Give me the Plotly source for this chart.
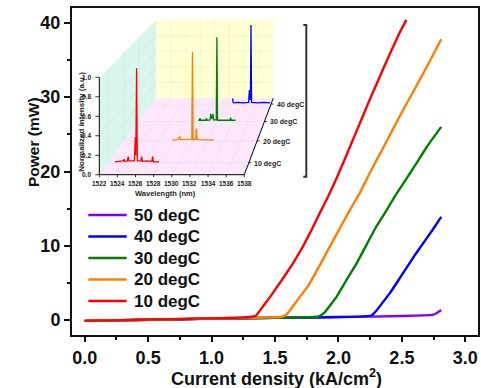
import numpy as np
import plotly.graph_objects as go

# ---------------- main L-I data ----------------
temps = ["50 degC", "40 degC", "30 degC", "20 degC", "10 degC"]
colors = ["#8000FF", "#0000FF", "#008000", "#FF8000", "#FF0000"]

j_50 = [0.0, 0.5, 1.0, 1.5, 2.0, 2.5, 2.74, 2.78, 2.81]
p_50 = [-0.1, 0.05, 0.2, 0.3, 0.4, 0.55, 0.7, 1.0, 1.35]

j_40 = [0.0, 0.5, 1.0, 1.5, 2.0, 2.2, 2.26, 2.30, 2.35, 2.404, 2.47, 2.535, 2.60, 2.666, 2.74, 2.81]
p_40 = [-0.1, 0.05, 0.2, 0.3, 0.42, 0.5, 0.62, 1.3, 2.4, 3.6, 5.3, 7.0, 8.7, 10.3, 12.1, 13.9]

j_30 = [0.0, 0.5, 1.0, 1.5, 1.8, 1.85, 1.89, 1.93, 1.984, 2.06, 2.142, 2.22, 2.299, 2.38,
        2.457, 2.535, 2.614, 2.70, 2.81]
p_30 = [-0.1, 0.05, 0.2, 0.32, 0.42, 0.55, 1.0, 1.9, 3.1, 5.3, 7.6, 10.1, 12.6, 14.8,
        17.0, 19.0, 21.1, 23.4, 26.0]

j_20 = [0.0, 0.5, 1.0, 1.5, 1.55, 1.59, 1.63, 1.69, 1.761, 1.86, 1.958, 2.06, 2.168, 2.25,
        2.325, 2.43, 2.51, 2.585, 2.70, 2.81]
p_20 = [-0.1, 0.05, 0.22, 0.38, 0.45, 0.75, 1.6, 3.0, 4.6, 7.6, 10.7, 13.9, 17.1, 19.9,
        22.3, 25.7, 28.3, 30.6, 34.2, 37.8]

j_10 = [0.0, 0.3, 0.6, 0.9, 1.2, 1.3, 1.35, 1.39, 1.46, 1.55, 1.64, 1.72, 1.787, 1.85,
        1.918, 1.98, 2.036, 2.09, 2.147, 2.245, 2.36, 2.48, 2.535]
p_10 = [-0.1, 0.0, 0.1, 0.2, 0.33, 0.42, 0.6, 1.5, 3.1, 5.3, 7.6, 9.9, 12.1, 14.3,
        16.6, 18.9, 21.1, 23.3, 25.6, 29.6, 34.1, 38.6, 40.4]

x_ticks = [0.0, 0.5, 1.0, 1.5, 2.0, 2.5, 3.0]
y_ticks = [0, 10, 20, 30, 40]

# ---------------- inset spectra data ----------------
spec_temps = [10, 20, 30, 40]
spec_labels = ["10 degC", "20 degC", "30 degC", "40 degC"]
spec_colors = ["#FF0000", "#FF8000", "#008000", "#0000FF"]

wl_10 = [1522.76, 1523.7, 1523.79, 1523.88, 1524.18, 1524.27, 1524.36, 1524.98, 1525.08, 1525.14,
         1525.23, 1525.31, 1525.71, 1525.8, 1525.89, 1526.4, 1526.96, 1527.05, 1527.14, 1527.8]
in_10 = [0.01, 0.02, 0.036, 0.015, 0.02, 0.064, 0.02, 0.02, 0.27, 0.08,
         1.0, 0.02, 0.02, 0.064, 0.015, 0.02, 0.015, 0.064, 0.01, 0.01]

wl_20 = [1527.75, 1528.5, 1528.6, 1528.67, 1528.76, 1529.4, 1530.12, 1530.2, 1530.28, 1530.59,
         1530.67, 1530.75, 1531.6, 1532.76]
in_20 = [0.01, 0.015, 0.04, 0.045, 0.015, 0.015, 0.02, 1.0, 0.015, 0.02,
         0.14, 0.015, 0.01, 0.01]

wl_30 = [1529.57, 1529.7, 1529.77, 1529.85, 1530.52, 1530.6, 1530.68, 1531.06, 1531.14, 1531.28,
         1531.43, 1531.5, 1531.85, 1531.93, 1532.01, 1533.6, 1533.68, 1533.76, 1534.31]
in_30 = [0.015, 0.015, 0.04, 0.015, 0.015, 0.04, 0.015, 0.02, 0.09, 0.03,
         0.09, 0.02, 0.02, 1.0, 0.015, 0.015, 0.045, 0.015, 0.015]

wl_40 = [1532.84, 1532.86, 1532.97, 1533.6, 1534.2, 1534.98, 1535.08, 1535.16, 1535.22, 1535.3,
         1535.38, 1536.2, 1537.0, 1537.86]
in_40 = [0.07, 0.03, 0.015, 0.02, 0.015, 0.02, 0.175, 0.06, 0.05, 0.99,
         0.02, 0.015, 0.02, 0.015]

wl_ticks = [1522, 1524, 1526, 1528, 1530, 1532, 1534, 1536, 1538]
int_ticks = [0.0, 0.2, 0.4, 0.6, 0.8, 1.0]

# ---------------- layout constants ----------------
W, H = 481, 388
ML, MR, MT, MB = 72, 3, 8, 53
FONT = "Liberation Sans, Arial, sans-serif"
INK = "#111111"

# inset projection (pixel space of overlay axis)
VPX, VPY, KPERSP = 393.0, -218.0, 0.242
FX0, FPX_PER_NM = 99.3, 9.0625
FY0, FPX_PER_I = 174.7, 97.4
T_FRONT, T_SPAN = 5.0, 38.6


def depth(T):
    return (T - T_FRONT) / T_SPAN


def proj(wl, inten, d):
    wl = np.asarray(wl, dtype=float)
    inten = np.asarray(inten, dtype=float)
    s = 1.0 / (1.0 + KPERSP * d)
    fx = FX0 + (wl - wl_ticks[0]) * FPX_PER_NM
    fy = FY0 - inten * FPX_PER_I
    return VPX + s * (fx - VPX), VPY + s * (fy - VPY)


def to_paper(px, py):
    return (px - ML) / (W - ML - MR), (H - MB - py) / (H - MB - MT)


fig = go.Figure()

wl_lo, wl_hi = wl_ticks[0], wl_ticks[-1]
i_lo, i_hi = int_ticks[0], int_ticks[-1]


def poly(pts, fillcolor):
    xs, ys = [], []
    for (w, i, d) in pts:
        px, py = proj(w, i, d)
        xs.append(float(px)); ys.append(float(py))
    xs.append(xs[0]); ys.append(ys[0])
    fig.add_trace(go.Scatter(x=xs, y=ys, xaxis="x2", yaxis="y2", mode="lines",
                             fill="toself", fillcolor=fillcolor,
                             line=dict(width=0, color=fillcolor),
                             showlegend=False, hoverinfo="skip"))


poly([(wl_lo, i_lo, 0), (wl_lo, i_hi, 0), (wl_lo, i_hi, 1), (wl_lo, i_lo, 1)], "#D9F6EE")
poly([(wl_lo, i_lo, 1), (wl_hi, i_lo, 1), (wl_hi, i_hi, 1), (wl_lo, i_hi, 1)], "#FFFFD2")
poly([(wl_lo, i_lo, 0), (wl_hi, i_lo, 0), (wl_hi, i_lo, 1), (wl_lo, i_lo, 1)], "#FDE8FB")


def seg(p1, p2, color, width):
    x1, y1 = proj(*p1)
    x2, y2 = proj(*p2)
    fig.add_trace(go.Scatter(x=[float(x1), float(x2)], y=[float(y1), float(y2)],
                             xaxis="x2", yaxis="y2", mode="lines",
                             line=dict(color=color, width=width),
                             showlegend=False, hoverinfo="skip"))


GRID = "rgba(0,0,0,0.07)"
for w in wl_ticks[1:-1]:
    seg((w, 0, 0), (w, 0, 1), GRID, 0.6)
    seg((w, 0, 1), (w, 1, 1), GRID, 0.6)
for i in int_ticks[1:-1]:
    seg((wl_lo, i, 0), (wl_lo, i, 1), GRID, 0.6)
    seg((wl_lo, i, 1), (wl_hi, i, 1), GRID, 0.6)
for T in spec_temps:
    seg((wl_lo, 0, depth(T)), (wl_hi, 0, depth(T)), GRID, 0.6)
    seg((wl_lo, 0, depth(T)), (wl_lo, 1, depth(T)), GRID, 0.6)

# inset axes lines
seg((wl_lo, i_lo, 0), (wl_lo, i_hi, 0), "#000000", 1)
seg((wl_lo, i_lo, 0), (wl_hi, i_lo, 0), "#000000", 1)
seg((wl_hi, i_lo, 0), (wl_hi, i_lo, 1), "#000000", 1)

# ---- inset spectra ----
for wl, it, T, c in zip([wl_10, wl_20, wl_30, wl_40], [in_10, in_20, in_30, in_40],
                        spec_temps, spec_colors):
    px, py = proj(wl, it, depth(T))
    fig.add_trace(go.Scatter(x=px, y=py, xaxis="x2", yaxis="y2", mode="lines",
                             line=dict(color=c, width=1.3), showlegend=False,
                             hoverinfo="skip"))

annotations = []
shapes = []
INS_TICK = dict(family=FONT, size=6.5, color="#222222", weight="bold")
for w in wl_ticks:
    px, py = proj(w, 0, 0)
    annotations.append(dict(x=float(px), y=float(py) + 8.5, xref="x2", yref="y2",
                            text=str(w), showarrow=False, font=INS_TICK,
                            xanchor="center", yanchor="middle"))
    shapes.append(dict(type="line", xref="x2", yref="y2", x0=float(px), x1=float(px),
                       y0=float(py), y1=float(py) + 2.5, line=dict(color="#000000", width=0.8)))
for i in int_ticks:
    px, py = proj(wl_lo, i, 0)
    annotations.append(dict(x=float(px) - 6, y=float(py), xref="x2", yref="y2",
                            text=f"{i:.1f}", showarrow=False, font=INS_TICK,
                            xanchor="right", yanchor="middle"))
    shapes.append(dict(type="line", xref="x2", yref="y2", x0=float(px) - 4, x1=float(px),
                       y0=float(py), y1=float(py), line=dict(color="#000000", width=0.8)))
for T, lab in zip(spec_temps, spec_labels):
    px, py = proj(wl_hi, 0, depth(T))
    annotations.append(dict(x=float(px) + 3.5, y=float(py) + 1, xref="x2", yref="y2",
                            text=lab, showarrow=False,
                            font=dict(family=FONT, size=7, color="#222222", weight="bold"),
                            xanchor="left", yanchor="middle"))
    shapes.append(dict(type="line", xref="x2", yref="y2", x0=float(px), x1=float(px) + 2.5,
                       y0=float(py), y1=float(py), line=dict(color="#000000", width=0.8)))

px0, py0 = proj(wl_lo, 0.5, 0)
annotations.append(dict(x=float(px0) - 18.6, y=float(py0) - 4, xref="x2", yref="y2",
                        text="Normalized intensity (a.u.)", showarrow=False,
                        textangle=-90,
                        font=dict(family=FONT, size=8, color="#222222", weight="bold"),
                        xanchor="center", yanchor="middle"))
pxm, pym = proj((wl_lo + wl_hi) / 2, 0, 0)
annotations.append(dict(x=float(pxm) - 6, y=float(pym) + 19, xref="x2", yref="y2",
                        text="Wavelength (nm)", showarrow=False,
                        font=dict(family=FONT, size=7.5, color="#222222", weight="bold"),
                        xanchor="center", yanchor="middle"))

# ---- main curves (red drawn last, on top) ----
for name, c, xs, ys in zip(temps, colors,
                           [j_50, j_40, j_30, j_20, j_10],
                           [p_50, p_40, p_30, p_20, p_10]):
    fig.add_trace(go.Scatter(x=xs, y=ys, mode="lines", name=name, showlegend=False,
                             line=dict(color=c, width=2.4, shape="spline", smoothing=0.3)))

# ---- legend (keys + text so the row pitch matches) ----
axis_font = dict(family=FONT, size=18, color=INK, weight="bold")
LEG_X0, LEG_X1, LEG_TX, LEG_Y0, LEG_DY = 88.3, 126.7, 131.5, 215.0, 21.5
for k, (name, c) in enumerate(zip(temps, colors)):
    yy = LEG_Y0 + k * LEG_DY
    shapes.append(dict(type="line", xref="x2", yref="y2", x0=LEG_X0, x1=LEG_X1,
                       y0=yy, y1=yy, line=dict(color=c, width=2.6)))
    annotations.append(dict(x=LEG_TX, y=yy, xref="x2", yref="y2", text=name,
                            showarrow=False, xanchor="left", yanchor="middle",
                            font=dict(family=FONT, size=17, color=INK, weight="bold")))

# bracket on the right of the inset
shapes.append(dict(type="path", xref="x2", yref="y2",
                   path="M 303.3 25 L 306.3 25 L 306.3 176.7 L 303.3 176.7",
                   line=dict(color="#333333", width=2)))

# axis titles (paper-referenced so they can sit in the margins)
tx, ty = to_paper(276, 377)
annotations.append(dict(x=tx, y=ty, xref="paper", yref="paper",
                        text="Current density (kA/cm<sup>2</sup>)", showarrow=False,
                        xanchor="center", yanchor="middle", font=axis_font))
tx, ty = to_paper(34, 142)
annotations.append(dict(x=tx, y=ty, xref="paper", yref="paper", text="Power (mW)",
                        showarrow=False, textangle=-90, xanchor="center",
                        yanchor="middle",
                        font=dict(family=FONT, size=15.5, color=INK, weight="bold")))

fig.update_layout(
    width=W, height=H,
    margin=dict(l=ML, r=MR, t=MT, b=MB, autoexpand=False),
    paper_bgcolor="white", plot_bgcolor="white",
    font=dict(family=FONT, color=INK),
    showlegend=False,
    xaxis=dict(range=[-0.1, 3.1], tickvals=x_ticks, ticktext=[f"{v:.1f}" for v in x_ticks],
               showline=True, linecolor=INK, linewidth=2, mirror=True,
               ticks="outside", ticklen=5, tickwidth=2, tickcolor=INK,
               minor=dict(dtick=0.25, ticks="outside", ticklen=3, tickwidth=1.5,
                          tickcolor=INK),
               showgrid=False, zeroline=False, tickfont=axis_font, automargin=False),
    yaxis=dict(range=[-2, 42], tickvals=y_ticks,
               showline=True, linecolor=INK, linewidth=2, mirror=True,
               ticks="outside", ticklen=6, tickwidth=2, tickcolor=INK,
               minor=dict(dtick=5, ticks="outside", ticklen=3, tickwidth=1.5,
                          tickcolor=INK),
               showgrid=False, zeroline=False, tickfont=axis_font, automargin=False),
    xaxis2=dict(range=[ML, W - MR], overlaying="x", anchor="y2", visible=False,
                fixedrange=True, automargin=False),
    yaxis2=dict(range=[H - MB, MT], overlaying="y", anchor="x2", visible=False,
                fixedrange=True, automargin=False),
    annotations=annotations,
    shapes=shapes,
)

fig.write_html("out.html", config={"displayModeBar": False},
               post_script="document.body.style.margin='0px';document.body.style.overflow='hidden';")
